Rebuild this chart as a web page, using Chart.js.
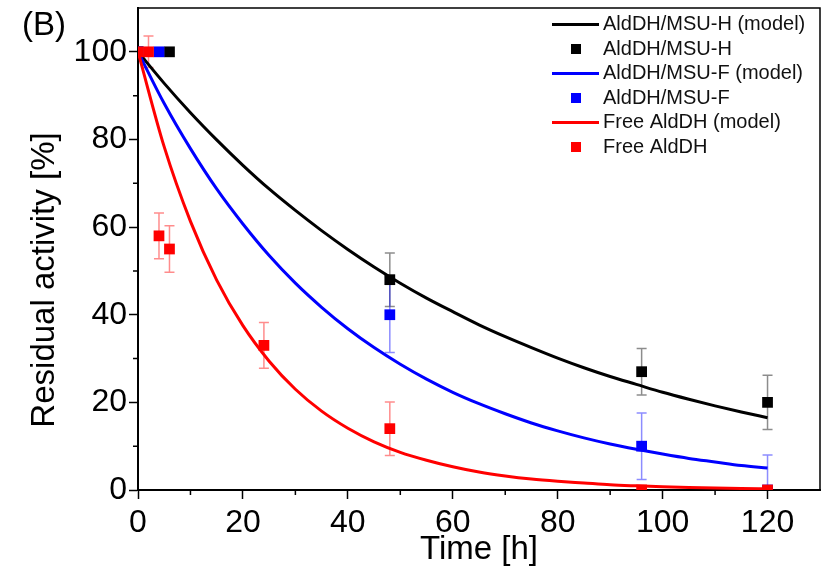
<!DOCTYPE html>
<html><head><meta charset="utf-8">
<script src="https://cdn.jsdelivr.net/npm/chart.js@4/dist/chart.umd.min.js"></script>
<style>html,body{margin:0;padding:0;background:#fff}#wrap{width:828px;height:579px;position:relative}</style>
</head><body><div id="wrap"><canvas id="c"></canvas></div>
<script>
// ---- data ----
const modelTimes = [0,5,10,15,20,25,30,35,40,45,50,55,60,65,70,75,80,85,90,95,100,105,110,115,120];
const modelH    = [100,92.8,86.1,79.9,74.1,68.7,63.8,59.2,54.9,50.9,47.2,43.8,40.7,37.7,35.0,32.5,30.1,27.9,25.9,24.1,22.3,20.7,19.2,17.8,16.5];
const modelF    = [100,88.2,77.9,68.7,60.7,53.5,47.2,41.7,36.8,32.5,28.7,25.3,22.3,19.7,17.4,15.3,13.5,11.9,10.5,9.3,8.2,7.2,6.4,5.6,5.0];
const modelFree = [100,78.3,61.3,47.9,37.5,29.4,23.0,18.0,14.1,11.0,8.6,6.8,5.3,4.1,3.2,2.5,2.0,1.6,1.2,0.95,0.74,0.58,0.46,0.36,0.28];

const timeH  = [0,6,48,96,120];
const valueH = [100,100,48,27,20];
const errH   = [0,0,6.1,5.3,6.2];

const timeF  = [0,4,48,96,120];
const valueF = [100,100,40,10,0];
const errF   = [0,0,8.6,7.6,8];

const timeFree  = [0,2,4,6,24,48,96,120];
const valueFree = [100,100,58,55,33,14,0,0];
const errFree   = [0,3.6,5.2,5.3,5.2,6.1,0,0];

const seriesLabels = ['AldDH/MSU-H (model)','AldDH/MSU-H','AldDH/MSU-F (model)','AldDH/MSU-F','Free AldDH (model)','Free AldDH'];
const xMinorTicks = [10,30,50,70,90,110];
const yMinorTicks = [10,30,50,70,90];
const panelLabel = '(B)';
const xTitle = 'Time [h]';
const yTitle = 'Residual activity [%]';

const FONT = "'Liberation Sans', Arial, sans-serif";
const BLACK = '#000000', BLUE = '#0000ff', RED = '#ff0000';

function pts(xs, ys){ return xs.map((x,i)=>({x:x, y:ys[i]})); }

function lineDs(label, xs, ys, color, order){
  return {type:'line', label, data:pts(xs,ys), borderColor:color, backgroundColor:color,
    borderWidth:3, pointRadius:0, fill:false, cubicInterpolationMode:'monotone', order, clip:0};
}
function markDs(label, xs, ys, errs, color, errColor, order){
  return {type:'scatter', label, data:pts(xs,ys), errors:errs, errColor,
    backgroundColor:color, borderColor:color, borderWidth:0, pointStyle:'rect', pointRadius:7.6,
    pointHoverRadius:7.6, order, clip:0};
}

const datasets = [
  lineDs(seriesLabels[0], modelTimes, modelH, BLACK, 5),
  markDs(seriesLabels[1], timeH, valueH, errH, BLACK, 'rgba(0,0,0,0.45)', 4),
  lineDs(seriesLabels[2], modelTimes, modelF, BLUE, 3),
  markDs(seriesLabels[3], timeF, valueF, errF, BLUE, 'rgba(0,0,255,0.45)', 2),
  lineDs(seriesLabels[4], modelTimes, modelFree, RED, 1),
  markDs(seriesLabels[5], timeFree, valueFree, errFree, RED, 'rgba(255,0,0,0.45)', 0)
];

const errorBars = {
  id:'errorBars',
  beforeDatasetsDraw(chart){
    const {ctx, chartArea:a, scales:{x, y}} = chart;
    ctx.save();
    ctx.beginPath(); ctx.rect(a.left, a.top, a.right-a.left, a.bottom-a.top); ctx.clip();
    chart.data.datasets.forEach(ds=>{
      if(!ds.errors) return;
      ctx.strokeStyle = ds.errColor; ctx.lineWidth = 1.5;
      ds.data.forEach((p,i)=>{
        const e = ds.errors[i]; if(!e) return;
        const px = x.getPixelForValue(p.x);
        const y1 = y.getPixelForValue(p.y + e), y2 = y.getPixelForValue(p.y - e);
        ctx.beginPath();
        ctx.moveTo(px, y1); ctx.lineTo(px, y2);
        ctx.moveTo(px-5, y1); ctx.lineTo(px+5, y1);
        ctx.moveTo(px-5, y2); ctx.lineTo(px+5, y2);
        ctx.stroke();
      });
    });
    ctx.restore();
  }
};

const decorations = {
  id:'decorations',
  afterDraw(chart){
    const {ctx, chartArea:a, scales:{x, y}} = chart;
    ctx.save();
    // frame top & right
    ctx.strokeStyle = BLACK; ctx.lineWidth = 1.5;
    ctx.beginPath();
    ctx.moveTo(a.left, a.top); ctx.lineTo(a.right, a.top); ctx.lineTo(a.right, a.bottom);
    ctx.stroke();
    // minor ticks
    ctx.lineWidth = 1.5;
    ctx.beginPath();
    xMinorTicks.forEach(v=>{ const px = x.getPixelForValue(v); ctx.moveTo(px, a.bottom); ctx.lineTo(px, a.bottom+5); });
    yMinorTicks.forEach(v=>{ const py = y.getPixelForValue(v); ctx.moveTo(a.left, py); ctx.lineTo(a.left-5, py); });
    ctx.stroke();
    // panel label
    ctx.fillStyle = BLACK; ctx.font = '33px ' + FONT; ctx.textBaseline = 'alphabetic'; ctx.textAlign = 'left';
    ctx.fillText(panelLabel, 22, 35);
    // y title (rotated)
    ctx.save();
    ctx.translate(45, 280); ctx.rotate(-Math.PI/2);
    ctx.font = '33px ' + FONT; ctx.textAlign = 'center'; ctx.textBaseline = 'middle';
    ctx.fillText(yTitle, 0, 0);
    ctx.restore();
    // legend
    const lx0 = 552, lx1 = 599, tx = 603;
    ctx.font = '20px ' + FONT; ctx.textBaseline = 'middle'; ctx.textAlign = 'left';
    chart.data.datasets.forEach((ds,i)=>{
      const yy = 24.5 + i*24.5;
      if(ds.type === 'line'){
        ctx.strokeStyle = ds.borderColor; ctx.lineWidth = 3;
        ctx.beginPath(); ctx.moveTo(lx0, yy); ctx.lineTo(lx1, yy); ctx.stroke();
      } else {
        ctx.fillStyle = ds.backgroundColor;
        ctx.fillRect(576-5, yy-5, 10, 10);
      }
      ctx.fillStyle = '#111';
      ctx.fillText(ds.label, tx, yy);
    });
    ctx.restore();
  }
};

new Chart(document.getElementById('c'), {
  data:{datasets},
  options:{
    responsive:true, maintainAspectRatio:false, animation:false,
    layout:{padding:{top:8, right:8, left:0, bottom:0}},
    plugins:{legend:{display:false}, tooltip:{enabled:false}},
    scales:{
      x:{type:'linear', position:'bottom', min:0, max:130,
        afterFit(s){ s.height = 89; s.paddingLeft = 0; s.paddingRight = 0; },
        ticks:{stepSize:20, includeBounds:false, color:BLACK, font:{family:FONT, size:32}, padding:5, maxRotation:0},
        grid:{drawOnChartArea:false, drawTicks:true, tickLength:9, tickColor:BLACK, tickWidth:1.5},
        border:{color:BLACK, width:2},
        title:{display:true, text:xTitle, color:BLACK, font:{family:FONT, size:33}, padding:{bottom:9, top:0}}
      },
      y:{type:'linear', position:'left', min:0, max:110,
        afterFit(s){ s.width = 138; s.paddingTop = 0; s.paddingBottom = 0; },
        ticks:{stepSize:20, includeBounds:false, color:BLACK, font:{family:FONT, size:32}, padding:2},
        grid:{drawOnChartArea:false, drawTicks:true, tickLength:9, tickColor:BLACK, tickWidth:1.5},
        border:{color:BLACK, width:2}
      }
    }
  },
  plugins:[errorBars, decorations]
});
</script>
</body></html>
